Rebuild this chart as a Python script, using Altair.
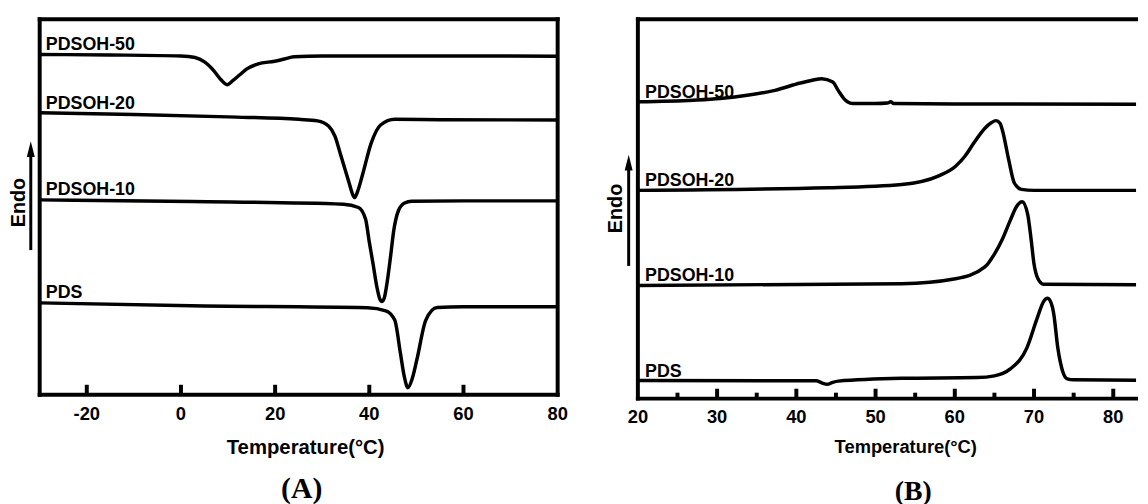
import altair as alt
import pandas as pd

FONT = "Liberation Sans"
SERIF = "Liberation Serif"
SERIES = ["PDSOH-50", "PDSOH-20", "PDSOH-10", "PDS"]

# ---------------- Panel (A) ----------------
A_T_50 = [-30, -15, 0, 3, 5, 7, 8.5, 9.8, 11, 12.5, 14, 16.4, 19.9, 22, 24, 30, 50, 80]
A_V_50 = [343.5, 343, 342, 340.5, 336, 327, 318, 313, 317, 323, 329, 334, 336.7, 339, 341.2, 342, 342, 341.8]
A_T_20 = [-30, -10, 10, 25, 29, 31.4, 32.7, 33.8, 35.7, 36.4, 36.9, 37.5, 38.5, 40.4, 42.4, 45.4, 55, 80]
A_V_20 = [284.7, 283, 280.5, 278, 276.5, 271, 261, 244, 214, 203, 199, 205, 221, 254, 272.3, 278, 277.7, 277.3]
A_T_10 = [-30, 2.3, 34.5, 37.7, 39.2, 40.0, 40.8, 41.6, 42.2, 42.7, 43.2, 43.8, 44.5, 45.2, 46.2, 47.5, 49, 60, 80]
A_V_10 = [196.7, 195, 192.3, 189, 177.3, 154, 132, 109, 97, 94, 98, 114, 139, 166, 186, 193.5, 195.3, 195.7, 195.7]
A_T_PDS = [-30, 2.2, 39.6, 43.5, 45.4, 46.6, 47.4, 48.2, 49.1, 50.1, 52, 54.4, 60, 80]
A_V_PDS = [92.7, 89.7, 87.7, 84.7, 75.3, 42, 19, 7, 16, 35.3, 75.3, 88, 88.7, 88.7]
A_LABEL_T = [-28.7, -28.7, -28.7, -28.7]
A_LABEL_V = [348.5, 288, 202, 98]
A_TICK_LABELS = [-20, 0, 20, 40, 60, 80]
A_MAJOR_TICKS = [-20, 0, 20, 40, 60]
A_MINOR_TICKS = []

# ---------------- Panel (B) ----------------
B_T_50 = [20, 27, 30.4, 34, 37.3, 40.5, 42, 43.2, 44.6, 45.3, 46, 46.5, 47.1, 50, 51.5, 51.9, 52.3, 60, 84]
B_V_50 = [299.7, 301.3, 303, 306.5, 311.3, 318.7, 321.5, 323, 319.7, 311, 303, 299.5, 298, 298, 298.5, 299.7, 298, 297.5, 297.3]
B_T_20 = [20, 44.1, 53.3, 57.9, 60.1, 61.3, 62.4, 63.8, 64.6, 65.2, 65.7, 66.0, 66.8, 67.5, 68.4, 70, 84]
B_V_20 = [210.3, 213, 216.3, 224.7, 234.7, 245, 258, 273, 278.5, 280.7, 278, 271.3, 241.3, 218, 211.3, 210.3, 210.3]
B_T_10 = [20, 53.3, 60.1, 63.8, 65.0, 66.0, 67.0, 67.8, 68.5, 69.2, 69.6, 70.0, 70.5, 71.2, 84]
B_V_10 = [114.3, 116, 121, 133, 146, 161, 180, 194, 198.7, 186, 163, 136, 121, 115.5, 115]
B_T_PDS = [20, 42.5, 43.2, 43.9, 44.6, 45.3, 53.3, 62.8, 65.0, 67.0, 69.1, 70.4, 71.2, 71.7, 72.3, 72.5, 73.0, 73.6, 74.2, 75, 84]
B_V_PDS = [18.3, 18, 16, 14.5, 16.5, 17.7, 20.5, 21.3, 23, 30, 51.3, 81.3, 98, 101.3, 93, 85, 51.3, 28, 20, 19, 18.5]
B_LABEL_T = [20.9, 20.9, 20.9, 20.9]
B_LABEL_V = [303.7, 214.7, 118.3, 22]
B_TICK_LABELS = [20, 30, 40, 50, 60, 70, 80]
B_MAJOR_TICKS = [30, 40, 50, 60, 70, 80]
B_MINOR_TICKS = [25, 35, 45, 55, 65, 75]


def curves(Ts, Vs):
    rows = []
    for name, t, v in zip(SERIES, Ts, Vs):
        for a, b in zip(t, v):
            rows.append({"series": name, "T": a, "v": b})
    return pd.DataFrame(rows)


def panel(df, lab_T, lab_V, tick_labels, major, minor, domain, W, H,
          title_x, title_y, title_size, label_off,
          endo_x, endo_y, arrow_x, arrow_tip, arrow_bottom,
          tag, tag_x, tag_y, tag_size, right_frame):
    x = alt.X("T:Q",
              scale=alt.Scale(domain=domain, nice=False, zero=False),
              axis=alt.Axis(values=tick_labels, labels=False,
                            ticks=False, domain=False, grid=False,
                            title="Temperature(°C)", titleFont=FONT,
                            titleFontSize=title_size, titleFontWeight="bold",
                            titleColor="black", titleX=title_x, titleY=title_y,
                            titleBaseline="alphabetic"))
    y = alt.Y("v:Q", scale=alt.Scale(domain=[0, H], nice=False, zero=False), axis=None)

    one = pd.DataFrame({"k": [0]})
    layers = []
    lines = alt.Chart(df).mark_line(color="black", strokeWidth=3.5,
                                    interpolate="monotone", clip=True).encode(
        x=x, y=y, detail="series:N")
    layers.append(lines)

    labels = pd.DataFrame({"series": SERIES, "T": lab_T, "v": lab_V})
    layers.append(alt.Chart(labels).mark_text(align="left", baseline="alphabetic",
                                              font=FONT, fontSize=18, fontWeight="bold",
                                              color="black").encode(
        x=x, y=y, text="series:N"))

    # tick labels along the bottom
    tl = pd.DataFrame({"T": tick_labels, "txt": [str(t) for t in tick_labels]})
    layers.append(alt.Chart(tl).mark_text(align="center", baseline="top",
                                          font=FONT, fontSize=18.5, fontWeight="bold",
                                          color="black").encode(
        x=x, y=alt.value(H + label_off), text="txt:N"))

    if major:
        layers.append(alt.Chart(pd.DataFrame({"T": major})).mark_rule(
            color="black", strokeWidth=4).encode(
            x=x, y=alt.value(H), y2=alt.value(H - 10)))
    if minor:
        layers.append(alt.Chart(pd.DataFrame({"T": minor})).mark_rule(
            color="black", strokeWidth=4).encode(
            x=x, y=alt.value(H), y2=alt.value(H - 6)))

    frame = dict(color="black", strokeWidth=4, strokeCap="square")
    layers.append(alt.Chart(one).mark_rule(**frame).encode(
        x=alt.value(0), x2=alt.value(W), y=alt.value(0)))
    layers.append(alt.Chart(one).mark_rule(**frame).encode(
        x=alt.value(0), x2=alt.value(W), y=alt.value(H)))
    layers.append(alt.Chart(one).mark_rule(**frame).encode(
        x=alt.value(0), y=alt.value(0), y2=alt.value(H)))
    if right_frame:
        layers.append(alt.Chart(one).mark_rule(**frame).encode(
            x=alt.value(W), y=alt.value(0), y2=alt.value(H)))

    # Endo arrow
    layers.append(alt.Chart(one).mark_rule(color="black", strokeWidth=3).encode(
        x=alt.value(arrow_x), y=alt.value(arrow_tip + 12), y2=alt.value(arrow_bottom)))
    layers.append(alt.Chart(one).mark_point(shape="M-0.5,1L0,-1L0.5,1Z", filled=True,
                                            color="black", opacity=1, size=256,
                                            strokeWidth=0).encode(
        x=alt.value(arrow_x), y=alt.value(arrow_tip + 8)))
    layers.append(alt.Chart(one).mark_text(angle=270, align="center", baseline="middle",
                                           font=FONT, fontSize=20, fontWeight="bold",
                                           color="black").encode(
        x=alt.value(endo_x), y=alt.value(endo_y), text=alt.value("Endo")))
    layers.append(alt.Chart(one).mark_text(align="center", baseline="middle",
                                           font=SERIF, fontSize=tag_size, fontWeight="bold",
                                           color="black").encode(
        x=alt.value(tag_x), y=alt.value(tag_y), text=alt.value(tag)))

    return alt.layer(*layers).properties(width=W, height=H)


dfA = curves([A_T_50, A_T_20, A_T_10, A_T_PDS], [A_V_50, A_V_20, A_V_10, A_V_PDS])
dfB = curves([B_T_50, B_T_20, B_T_10, B_T_PDS], [B_V_50, B_V_20, B_V_10, B_V_PDS])

WA, HA = 523, 379
WB, HB = 503, 383

chartA = panel(dfA, A_LABEL_T, A_LABEL_V, A_TICK_LABELS, A_MAJOR_TICKS, A_MINOR_TICKS,
               [-30, 80], WA, HA, 268, 59, 20.5, 11,
               -21, 185, -9, 123, 233, "(A)", 264.5, 474, 30, True)
chartB = panel(dfB, B_LABEL_T, B_LABEL_V, B_TICK_LABELS, B_MAJOR_TICKS, B_MINOR_TICKS,
               [20, 20 + WB / 8.0], WB, HB, 270, 54, 18.5, 10,
               -22.5, 191, -9.3, 136.7, 249, "(B)", 278, 477, 28, False)

chart = alt.hconcat(chartA, chartB, spacing=81, bounds="flush").configure_view(
    stroke="transparent").properties(
    padding={"left": 0, "top": 5, "right": 0, "bottom": 0},
    background="white")

chart.save("out.html", embed_options={"renderer": "svg", "actions": False})
